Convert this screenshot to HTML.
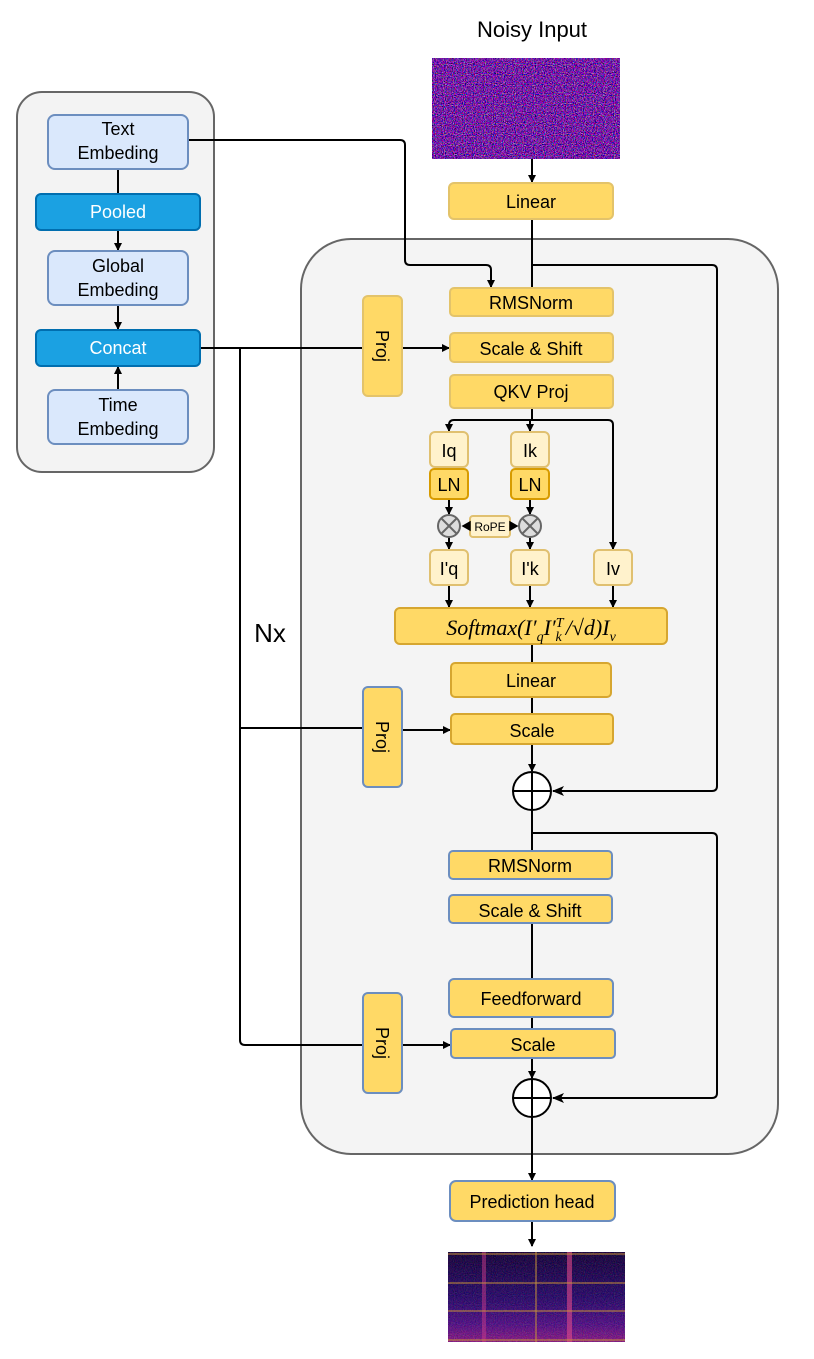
<!DOCTYPE html>
<html><head><meta charset="utf-8"><style>
html,body{margin:0;padding:0;background:#fff}
svg text{font-family:"Liberation Sans",sans-serif;fill:#000}
</style></head><body>
<svg width="814" height="1354" viewBox="0 0 814 1354" xmlns="http://www.w3.org/2000/svg">
<defs>
<marker id="a" markerWidth="8" markerHeight="8" refX="7" refY="4" orient="auto" markerUnits="userSpaceOnUse"><path d="M0,0 L8,4 L0,8 Z" fill="#000"/></marker>
<marker id="b" markerWidth="12" markerHeight="10" refX="11" refY="5" orient="auto" markerUnits="userSpaceOnUse"><path d="M0,0 L12,5 L0,10 L3,5 Z" fill="#000"/></marker>
<filter id="noise" x="0" y="0" width="100%" height="100%">
<feTurbulence type="fractalNoise" baseFrequency="0.9" numOctaves="1" seed="3" result="t"/>
<feColorMatrix type="matrix" values="2 0 0 0 -0.75  0 1.6 0 0 -0.85  0 0 2 0 -0.55  0 0 0 0 1"/>
</filter>
<linearGradient id="spec" x1="0" y1="0" x2="0" y2="1">
<stop offset="0" stop-color="#080626"/><stop offset="0.5" stop-color="#1c0f5a"/><stop offset="0.8" stop-color="#4a167a"/><stop offset="1" stop-color="#8a2278"/>
</linearGradient>
</defs>

<rect x="17" y="92" width="197" height="380" rx="25" fill="#f3f3f3" stroke="#666" stroke-width="2"/>
<rect x="301" y="239" width="477" height="915" rx="50" fill="#f4f4f4" stroke="#666" stroke-width="2"/>

<text x="532" y="37" font-size="22" text-anchor="middle">Noisy Input</text>
<rect x="432" y="58" width="188" height="101" fill="#2a1f55"/>
<rect x="432" y="58" width="188" height="101" filter="url(#noise)" opacity="0.9"/>

<g stroke="#000" stroke-width="2" fill="none">
<line x1="118" y1="169" x2="118" y2="194"/>
<line x1="118" y1="230" x2="118" y2="250" marker-end="url(#a)"/>
<line x1="118" y1="305" x2="118" y2="329" marker-end="url(#a)"/>
<line x1="118" y1="390" x2="118" y2="367" marker-end="url(#a)"/>
<path d="M188,140 H400 Q405,140 405,145 V260 Q405,265 410,265 H486 Q491,265 491,270 V287" marker-end="url(#a)"/>
<line x1="200" y1="348" x2="363" y2="348"/>
<path d="M240,348 V1040 Q240,1045 245,1045 H363"/>
<line x1="240" y1="728" x2="363" y2="728"/>
<line x1="402" y1="348" x2="449" y2="348" marker-end="url(#a)"/>
<line x1="402" y1="730" x2="450" y2="730" marker-end="url(#a)"/>
<line x1="402" y1="1045" x2="450" y2="1045" marker-end="url(#a)"/>
<line x1="532" y1="159" x2="532" y2="182" marker-end="url(#a)"/>
<line x1="532" y1="219" x2="532" y2="288"/>
<path d="M532,265 H712 Q717,265 717,270 V786 Q717,791 712,791 H553" marker-end="url(#b)"/>
<line x1="532" y1="408" x2="532" y2="420"/>
<path d="M449,431 V425 Q449,420 454,420 H608 Q613,420 613,425 V549" marker-end="url(#a)"/>
<line x1="449" y1="426" x2="449" y2="431" marker-end="url(#a)"/>
<line x1="530" y1="420" x2="530" y2="431" marker-end="url(#a)"/>
<line x1="449" y1="499" x2="449" y2="514" marker-end="url(#a)"/>
<line x1="530" y1="499" x2="530" y2="514" marker-end="url(#a)"/>
<line x1="449" y1="537" x2="449" y2="549" marker-end="url(#a)"/>
<line x1="530" y1="537" x2="530" y2="549" marker-end="url(#a)"/>
<line x1="449" y1="585" x2="449" y2="607" marker-end="url(#a)"/>
<line x1="530" y1="585" x2="530" y2="607" marker-end="url(#a)"/>
<line x1="613" y1="585" x2="613" y2="607" marker-end="url(#a)"/>
<line x1="532" y1="644" x2="532" y2="663"/>
<line x1="532" y1="697" x2="532" y2="714"/>
<line x1="532" y1="744" x2="532" y2="771" marker-end="url(#a)"/>
<line x1="532" y1="810" x2="532" y2="851"/>
<path d="M532,833 H712 Q717,833 717,838 V1093 Q717,1098 712,1098 H553" marker-end="url(#b)"/>
<line x1="532" y1="923" x2="532" y2="979"/>
<line x1="532" y1="1017" x2="532" y2="1029"/>
<line x1="532" y1="1058" x2="532" y2="1078" marker-end="url(#a)"/>
<line x1="532" y1="1117" x2="532" y2="1180" marker-end="url(#a)"/>
<line x1="532" y1="1221" x2="532" y2="1246" marker-end="url(#a)"/>
</g>

<rect x="48" y="115" width="140" height="54" rx="7" fill="#dae8fc" stroke="#6c8ebf" stroke-width="2"/>
<text x="118" y="135" font-size="18" text-anchor="middle">Text</text><text x="118" y="159" font-size="18" text-anchor="middle">Embeding</text>
<rect x="36" y="194" width="164" height="36" rx="5" fill="#1ba1e2" stroke="#006eaf" stroke-width="2"/>
<text x="118" y="218" font-size="18" text-anchor="middle" style="fill:#fff">Pooled</text>
<rect x="48" y="251" width="140" height="54" rx="7" fill="#dae8fc" stroke="#6c8ebf" stroke-width="2"/>
<text x="118" y="272" font-size="18" text-anchor="middle">Global</text><text x="118" y="296" font-size="18" text-anchor="middle">Embeding</text>
<rect x="36" y="330" width="164" height="36" rx="5" fill="#1ba1e2" stroke="#006eaf" stroke-width="2"/>
<text x="118" y="354" font-size="18" text-anchor="middle" style="fill:#fff">Concat</text>
<rect x="48" y="390" width="140" height="54" rx="7" fill="#dae8fc" stroke="#6c8ebf" stroke-width="2"/>
<text x="118" y="411" font-size="18" text-anchor="middle">Time</text><text x="118" y="435" font-size="18" text-anchor="middle">Embeding</text>

<text x="270" y="642" font-size="26" text-anchor="middle">Nx</text>

<g stroke-width="2">
<rect x="449" y="183" width="164" height="36" rx="5" fill="#ffd966" stroke="#e3c36a"/>
<rect x="450" y="288" width="163" height="28" rx="4" fill="#ffd966" stroke="#e3c36a"/>
<rect x="450" y="333" width="163" height="29" rx="4" fill="#ffd966" stroke="#e3c36a"/>
<rect x="450" y="375" width="163" height="33" rx="4" fill="#ffd966" stroke="#e3c36a"/>
<rect x="363" y="296" width="39" height="100" rx="5" fill="#ffd966" stroke="#e3c36a"/>
<rect x="363" y="687" width="39" height="100" rx="5" fill="#ffd966" stroke="#6c8ebf"/>
<rect x="363" y="993" width="39" height="100" rx="5" fill="#ffd966" stroke="#6c8ebf"/>
<rect x="430" y="432" width="38" height="35" rx="5" fill="#fff2cc" stroke="#e0c070"/>
<rect x="430" y="469" width="38" height="30" rx="4" fill="#ffd966" stroke="#d79b00"/>
<rect x="511" y="432" width="38" height="35" rx="5" fill="#fff2cc" stroke="#e0c070"/>
<rect x="511" y="469" width="38" height="30" rx="4" fill="#ffd966" stroke="#d79b00"/>
<rect x="430" y="550" width="38" height="35" rx="5" fill="#fff2cc" stroke="#e0c070"/>
<rect x="511" y="550" width="38" height="35" rx="5" fill="#fff2cc" stroke="#e0c070"/>
<rect x="594" y="550" width="38" height="35" rx="5" fill="#fff2cc" stroke="#e0c070"/>
<rect x="470" y="516" width="40" height="21" rx="3" fill="#fff2cc" stroke="#e0c070"/>
<rect x="395" y="608" width="272" height="36" rx="5" fill="#ffd966" stroke="#d6a630"/>
<rect x="451" y="663" width="160" height="34" rx="4" fill="#ffd966" stroke="#d6a630"/>
<rect x="451" y="714" width="162" height="30" rx="4" fill="#ffd966" stroke="#d6a630"/>
<rect x="449" y="851" width="163" height="28" rx="4" fill="#ffd966" stroke="#6c8ebf"/>
<rect x="449" y="895" width="163" height="28" rx="4" fill="#ffd966" stroke="#6c8ebf"/>
<rect x="449" y="979" width="164" height="38" rx="5" fill="#ffd966" stroke="#6c8ebf"/>
<rect x="451" y="1029" width="164" height="29" rx="4" fill="#ffd966" stroke="#6c8ebf"/>
<rect x="450" y="1181" width="165" height="40" rx="6" fill="#ffd966" stroke="#6c8ebf"/>
</g>
<g font-size="18" text-anchor="middle">
<text x="531" y="208">Linear</text>
<text x="531" y="309">RMSNorm</text>
<text x="531" y="355">Scale &amp; Shift</text>
<text x="531" y="398">QKV Proj</text>
<text x="449" y="457">Iq</text><text x="530" y="457">Ik</text>
<text x="449" y="491">LN</text><text x="530" y="491">LN</text>
<text x="449" y="575">I'q</text><text x="530" y="575">I'k</text><text x="613" y="575">Iv</text>
<text x="531" y="687">Linear</text>
<text x="532" y="737">Scale</text>
<text x="530" y="872">RMSNorm</text>
<text x="530" y="917">Scale &amp; Shift</text>
<text x="531" y="1005">Feedforward</text>
<text x="533" y="1051">Scale</text>
<text x="532" y="1208">Prediction head</text>
</g>
<text x="531" y="635" font-size="22" font-style="italic" text-anchor="middle" style="font-family:'Liberation Serif',serif">Softmax(I′<tspan font-size="14" dy="6">q</tspan><tspan dy="-6">I′</tspan><tspan font-size="14" dy="-8">T</tspan><tspan font-size="14" dx="-8" dy="14">k</tspan><tspan dy="-6" dx="4">/√d)I</tspan><tspan font-size="14" dy="6">v</tspan></text>
<text x="490" y="531" font-size="12" text-anchor="middle">RoPE</text>
<g font-size="18" text-anchor="middle">
<text transform="translate(376,346) rotate(90)">Proj</text>
<text transform="translate(376,737) rotate(90)">Proj</text>
<text transform="translate(376,1043) rotate(90)">Proj</text>
</g>

<g stroke="#666" stroke-width="2" fill="#ddd">
<circle cx="449" cy="526" r="11"/><circle cx="530" cy="526" r="11"/>
<path d="M441,518 L457,534 M457,518 L441,534 M522,518 L538,534 M538,518 L522,534"/>
</g>
<g stroke="#000" stroke-width="1.5" fill="#000">
<path d="M463,526 l7,-4 v8 z"/><path d="M517,526 l-7,-4 v8 z"/>
</g>
<g stroke="#000" stroke-width="2" fill="#fff">
<circle cx="532" cy="791" r="19"/><path d="M513,791 H551 M532,772 V810"/>
<circle cx="532" cy="1098" r="19"/><path d="M513,1098 H551 M532,1079 V1117"/>
</g>

<rect x="448" y="1252" width="177" height="90" fill="url(#spec)"/>
<rect x="448" y="1252" width="177" height="90" filter="url(#noise)" opacity="0.2"/>
<rect x="482" y="1252" width="4" height="90" fill="#c83a8a" opacity="0.5"/>
<rect x="567" y="1252" width="5" height="90" fill="#e04a8a" opacity="0.6"/>
<g stroke="#c8903a" stroke-width="1">
<line x1="448" y1="1254" x2="625" y2="1254"/><line x1="448" y1="1283" x2="625" y2="1283"/>
<line x1="448" y1="1311" x2="625" y2="1311"/><line x1="448" y1="1340" x2="625" y2="1340"/>
<line x1="536" y1="1252" x2="536" y2="1342"/>
</g>
</svg>
</body></html>
